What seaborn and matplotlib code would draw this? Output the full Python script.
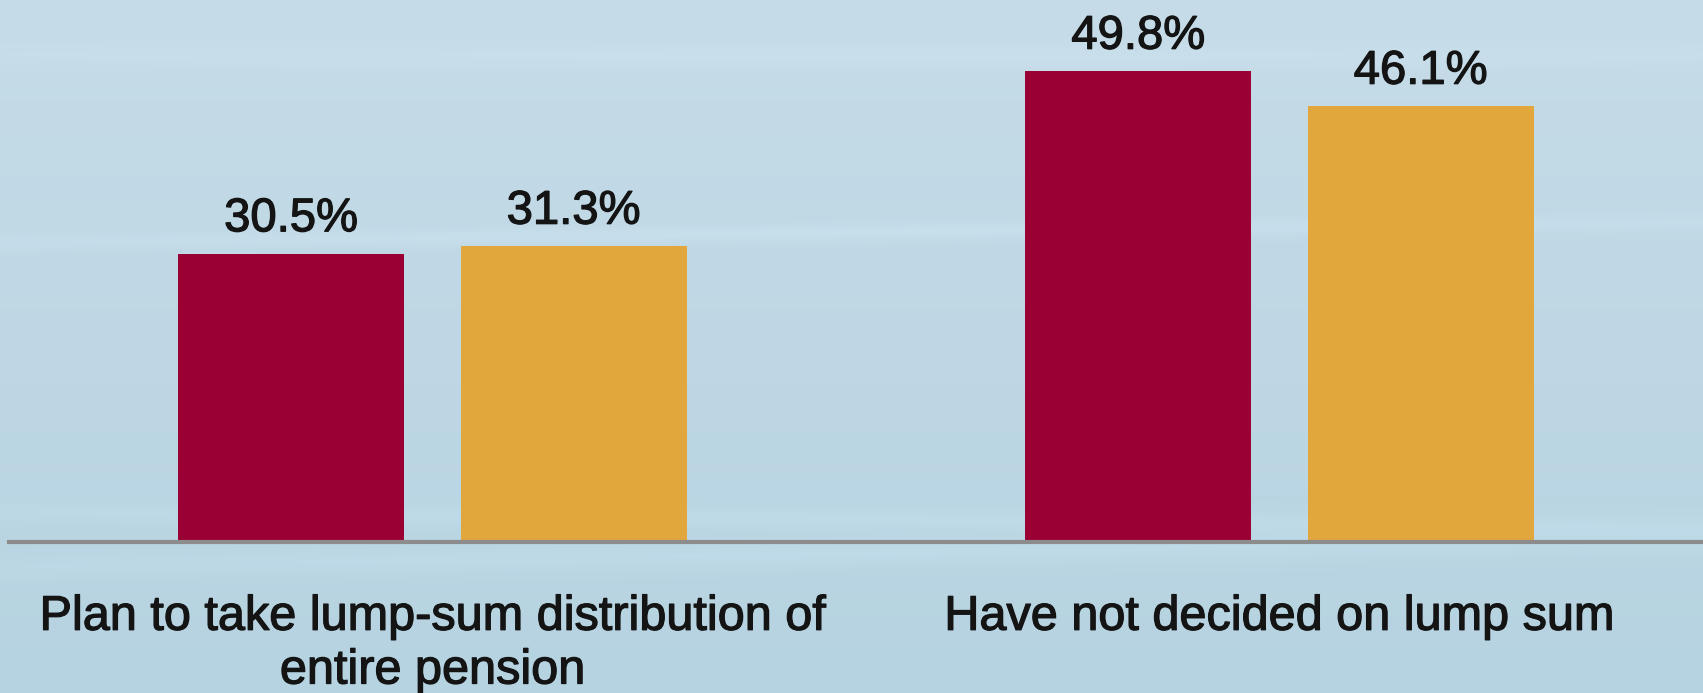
import numpy as np
import pandas as pd
import matplotlib
matplotlib.use("Agg")
import matplotlib.pyplot as plt
import matplotlib.patheffects as pe
import seaborn as sns

# Survey results (percent of respondents)
categories = ["Plan to take lump-sum distribution of\nentire pension",
              "Have not decided on lump sum"]
series = ["Series 1", "Series 2"]
series_1 = [30.5, 49.8]
series_2 = [31.3, 46.1]
palette = ["#9b0034", "#e1a73c"]

df = pd.DataFrame({
    "category": categories * 2,
    "series": [series[0]] * len(categories) + [series[1]] * len(categories),
    "value": series_1 + series_2,
})

sns.set_theme(style="white")
plt.rcParams["font.family"] = ["Liberation Sans", "DejaVu Sans"]

TEXT = "#141414"
thick = [pe.withStroke(linewidth=0.9, foreground=TEXT)]

W, H = 1703, 693
fig = plt.figure(figsize=(W / 100, H / 100), dpi=100)

# Soft blue backdrop with faint light streaks
bg = fig.add_axes([0, 0, 1, 1], zorder=0)
yy = np.linspace(0, 1, 400)[:, None]
xx = np.linspace(0, 1, 800)[None, :]
top = np.array([198, 220, 232]) / 255
bot = np.array([182, 211, 225]) / 255
grad = top[None, None, :] * (1 - yy[..., None]) + bot[None, None, :] * yy[..., None]
streak = (0.025 * np.exp(-((yy - 0.35 + 0.03 * xx) / 0.012) ** 2)
          + 0.02 * np.exp(-((yy - 0.74 - 0.02 * xx) / 0.015) ** 2)
          + 0.02 * np.exp(-((yy - 0.82 + 0.04 * xx) / 0.02) ** 2)
          + 0.015 * np.exp(-((yy - 0.08) / 0.02) ** 2))
img = np.clip(grad + streak[..., None] * (0.6 + 0.4 * np.sin(3 * xx))[..., None], 0, 1)
bg.imshow(img, aspect="auto", extent=[0, 1, 0, 1], origin="upper")
bg.set_axis_off()

ax = fig.add_axes([9 / W, (H - 542) / H, 1 - 9 / W, 542 / H], zorder=1)
ax.patch.set_alpha(0)

sns.barplot(data=df, x="category", y="value", hue="series", palette=palette,
            width=0.667, gap=0.2, saturation=1, linewidth=0, legend=False,
            ax=ax, zorder=1)

for container, vals in zip(ax.containers, [series_1, series_2]):
    for bar, v in zip(container, vals):
        ax.annotate(f"{v:.1f}%", (bar.get_x() + bar.get_width() / 2, v),
                    xytext=(0, 16), textcoords="offset points",
                    ha="center", va="baseline", fontsize=34, color=TEXT,
                    path_effects=thick)

ax.set_xlim(-0.5, 1.5)
ax.set_ylim(0, 57.3)
ax.set_xlabel("")
ax.set_ylabel("")
ax.set_yticks([])
ax.tick_params(axis="x", length=0, pad=38, labelsize=35, labelcolor=TEXT)
for lbl in ax.get_xticklabels():
    lbl.set_linespacing(1.25)
    lbl.set_multialignment("center")
    lbl.set_path_effects(thick)

for side in ["top", "right", "left"]:
    ax.spines[side].set_visible(False)
ax.spines["bottom"].set_color("#8c8c8c")
ax.spines["bottom"].set_linewidth(3)
ax.spines["bottom"].set_zorder(3)

fig.savefig("out.png", dpi=100)
